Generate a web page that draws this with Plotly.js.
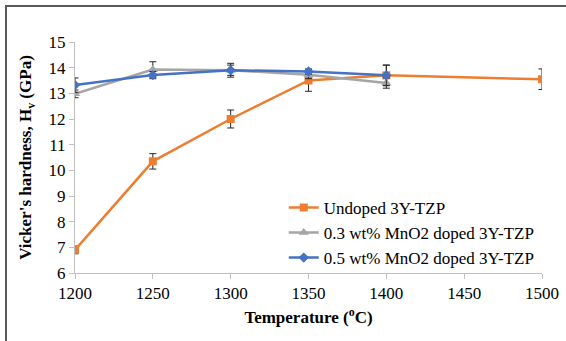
<!DOCTYPE html>
<html>
<head>
<meta charset="utf-8">
<script src="https://cdn.plot.ly/plotly-3.0.1.min.js"></script>
<style>
  html, body { margin: 0; padding: 0; background: #fff; }
  #wrap { position: relative; width: 566px; height: 341px; overflow: hidden; background: #fff; }
  #frame { position: absolute; left: 5px; top: 5px; width: 600px; height: 400px; z-index: 0;
           border-left: 2px solid #5a5a5a; border-top: 2px solid #5a5a5a; }
  #chart { position: absolute; left: 0; top: 0; width: 566px; height: 341px; z-index: 1; }
</style>
</head>
<body>
<div id="wrap"><div id="frame"></div><div id="chart"></div></div>
<script>
const tempUndoped = [1200, 1250, 1300, 1350, 1400, 1500];
const hvUndoped   = [6.9, 10.35, 12.0, 13.5, 13.7, 13.55];
const errUndoped  = [0.15, 0.3, 0.35, 0.42, 0.4, 0.4];

const tempDoped = [1200, 1250, 1300, 1350, 1400];
const hvMn03    = [12.98, 13.93, 13.9, 13.72, 13.4];
const errMn03   = [0.15, 0.3, 0.2, 0.15, 0.2];
const hvMn05    = [13.32, 13.71, 13.9, 13.85, 13.7];
const errMn05   = [0.28, 0.14, 0.27, 0.1, 0.4];

const names = ['Undoped 3Y-TZP', '0.3 wt% MnO2 doped 3Y-TZP', '0.5 wt% MnO2 doped 3Y-TZP'];
const xTicks = [1200, 1250, 1300, 1350, 1400, 1450, 1500];
const yTicks = [6, 7, 8, 9, 10, 11, 12, 13, 14, 15];

const serif = "'Liberation Serif', 'Times New Roman', serif";
const errStyle = (arr) => ({type: 'data', array: arr, visible: true, color: '#262626', thickness: 1, width: 3.5});

const traces = [
  {x: tempUndoped, y: hvUndoped, name: names[0], mode: 'lines+markers',
   line: {color: '#ED7D31', width: 2.5}, marker: {symbol: 'square', size: 8, color: '#ED7D31'},
   error_y: errStyle(errUndoped)},
  {x: tempDoped, y: hvMn03, name: names[1], mode: 'lines+markers',
   line: {color: '#A5A5A5', width: 2.5}, marker: {symbol: 'triangle-up', size: 9, color: '#A5A5A5'},
   error_y: errStyle(errMn03)},
  {x: tempDoped, y: hvMn05, name: names[2], mode: 'lines+markers',
   line: {color: '#4472C4', width: 2.5}, marker: {symbol: 'diamond', size: 8, color: '#4472C4'},
   error_y: errStyle(errMn05)}
];

const layout = {
  width: 566, height: 341,
  margin: {l: 75, r: 24, t: 42, b: 68},
  paper_bgcolor: 'rgba(0,0,0,0)', plot_bgcolor: 'rgba(0,0,0,0)',
  font: {family: serif, size: 16, color: '#000'},
  showlegend: true,
  legend: {x: 0.447, y: 0.36, xanchor: 'left', yanchor: 'top', bgcolor: 'rgba(0,0,0,0)',
           font: {family: serif, size: 17, color: '#000'}, tracegroupgap: 0},
  xaxis: {range: [1200, 1500], tickvals: xTicks, ticktext: xTicks.map(String),
          showgrid: false, zeroline: false, showline: true, linecolor: '#BFBFBF', linewidth: 1,
          ticks: 'outside', ticklen: 5, tickcolor: '#BFBFBF',
          tickfont: {family: serif, size: 17, color: '#000'},
          title: {text: '<b>Temperature (<sup>o</sup>C)</b>', font: {family: serif, size: 17, color: '#000'}, standoff: 8}},
  yaxis: {range: [6, 15], tickvals: yTicks, ticktext: yTicks.map(String),
          showgrid: false, zeroline: false, showline: true, linecolor: '#BFBFBF', linewidth: 1,
          ticks: 'outside', ticklen: 5, tickcolor: '#BFBFBF',
          tickfont: {family: serif, size: 17, color: '#000'},
          title: {text: "<b>Vicker's hardness, H<sub>v</sub> (GPa)</b>", font: {family: serif, size: 17, color: '#000'}, standoff: 12}}
};

Plotly.newPlot('chart', traces, layout, {displayModeBar: false, staticPlot: true});
</script>
</body>
</html>
